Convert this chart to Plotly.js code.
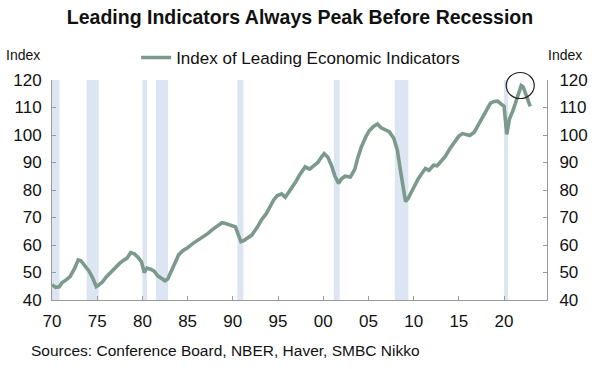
<!DOCTYPE html>
<html>
<head>
<meta charset="utf-8">
<script src="https://cdn.plot.ly/plotly-3.0.1.min.js"></script>
<style>html,body{margin:0;padding:0;background:#fff}#chart{width:600px;height:369px}</style>
</head>
<body>
<div id="chart"></div>
<script>
// Decimal years and index values
const years = [1970.0,1970.4,1970.8,1971.1,1971.6,1972.0,1972.5,1972.9,1973.2,1973.6,1974.1,1974.5,1974.9,1975.2,1975.6,1976.0,1976.5,1977.0,1977.5,1978.0,1978.3,1978.7,1979.1,1979.5,1979.9,1980.2,1980.5,1980.9,1981.3,1981.7,1982.1,1982.5,1982.8,1983.2,1983.6,1984.0,1984.5,1985.0,1985.6,1986.2,1986.8,1987.3,1987.7,1988.2,1988.8,1989.2,1989.8,1990.3,1990.6,1990.9,1991.2,1991.6,1992.1,1992.7,1993.2,1993.7,1994.1,1994.5,1994.9,1995.4,1995.8,1996.2,1996.6,1997.0,1997.4,1998.0,1998.5,1999.0,1999.4,1999.8,2000.1,2000.5,2000.9,2001.3,2001.7,2002.0,2002.4,2003.0,2003.5,2003.8,2004.2,2004.7,2005.1,2005.6,2006.0,2006.4,2006.9,2007.3,2007.8,2008.2,2008.5,2008.8,2009.1,2009.4,2009.7,2010.1,2010.5,2010.9,2011.3,2011.7,2012.2,2012.6,2013.0,2013.5,2014.0,2014.5,2015.0,2015.4,2015.8,2016.2,2016.7,2017.2,2017.6,2018.0,2018.5,2018.9,2019.3,2019.7,2020.0,2020.3,2020.6,2021.0,2021.4,2021.7,2021.9,2022.1,2022.4,2022.7,2022.9];
const leiValues = [45.6,44.6,44.8,46.3,47.4,48.5,51.5,54.6,54.3,52.8,50.5,48.0,44.9,45.5,46.6,48.4,50.2,51.8,53.4,54.6,55.2,57.2,56.8,55.6,53.9,50.0,51.6,51.2,50.5,48.8,47.8,47.0,47.6,50.6,53.8,56.4,58.0,59.0,60.6,61.8,63.2,64.3,65.5,66.7,68.1,67.8,67.2,66.6,63.8,61.2,61.6,62.6,63.6,66.4,69.3,71.4,74.0,76.3,77.9,78.6,77.4,79.3,81.0,83.2,85.6,88.4,87.6,88.8,90.0,92.0,93.2,92.0,89.0,85.0,82.4,84.0,85.0,84.7,87.6,91.5,95.5,99.3,101.6,103.2,104.0,102.6,101.8,101.2,98.8,94.5,88.0,81.5,75.8,77.0,79.0,81.5,84.0,86.0,87.8,87.2,89.0,88.8,90.3,92.2,95.0,97.6,99.6,100.5,100.2,99.8,101.0,104.0,106.6,109.0,111.6,112.2,112.3,111.2,110.5,100.2,105.8,109.0,112.6,115.8,118.0,117.6,115.0,112.0,110.4];

// NBER recessions (decimal years)
const recessionStart = [1969.92,1973.83,1980.0,1981.5,1990.5,2001.17,2007.92,2020.0];
const recessionEnd   = [1970.83,1975.17,1980.5,1982.83,1991.17,2001.83,2009.42,2020.45];

const tickYears = [1970,1975,1980,1985,1990,1995,2000,2005,2010,2015,2020];
const tickLabels = ['70','75','80','85','90','95','00','05','10','15','20'];
const yTicks = [40,50,60,70,80,90,100,110,120];

const X_RANGE = [1970, 2024.75];
const Y_RANGE = [40, 120];
const FONT = 'Liberation Sans, Arial, sans-serif';
const AX = '#9a9a9a';

const shapes = recessionStart.map((s, i) => ({
  type: 'rect', xref: 'x', yref: 'paper', x0: s, x1: recessionEnd[i], y0: 0, y1: 1,
  fillcolor: '#dce6f2', line: {width: 0}, layer: 'below'
}));

// circle around the peak (paper-referenced so it is not clipped by the plot area)
let pk = 0;
leiValues.forEach((v, i) => { if (v > leiValues[pk]) pk = i; });
shapes.push({
  type: 'circle', xref: 'paper', yref: 'paper', xsizemode: 'pixel', ysizemode: 'pixel',
  xanchor: (years[pk] - X_RANGE[0]) / (X_RANGE[1] - X_RANGE[0]),
  yanchor: (leiValues[pk] - Y_RANGE[0]) / (Y_RANGE[1] - Y_RANGE[0]),
  x0: -15, x1: 13, y0: -13, y1: 13,
  line: {color: '#222', width: 1.2}, fillcolor: 'rgba(0,0,0,0)', layer: 'above'
});

const trace = {
  x: years, y: leiValues, type: 'scatter', mode: 'lines',
  name: 'Index of Leading Economic Indicators',
  line: {color: '#7b9a8b', width: 3.6, shape: 'linear'},
  hoverinfo: 'skip'
};
const ghost = {
  x: years, y: leiValues, type: 'scatter', mode: 'lines', yaxis: 'y2',
  showlegend: false, line: {color: 'rgba(0,0,0,0)', width: 0}, hoverinfo: 'skip'
};

const axisCommon = {
  range: Y_RANGE, tickvals: yTicks, ticks: 'inside', ticklen: 4, tickcolor: AX,
  showline: true, linecolor: AX, linewidth: 1, showgrid: false, zeroline: false,
  tickfont: {family: FONT, size: 17, color: '#111'}, fixedrange: true
};

const layout = {
  width: 600, height: 369,
  margin: {l: 52, r: 53, t: 80, b: 69},
  paper_bgcolor: '#fff', plot_bgcolor: '#fff',
  title: {text: '<b>Leading Indicators Always Peak Before Recession</b>',
          font: {family: FONT, size: 19.5, color: '#111'},
          x: 0.5, xanchor: 'center', y: 0.953, yanchor: 'middle'},
  showlegend: true,
  legend: {orientation: 'h', x: 0.17, xanchor: 'left', y: 1.1, yanchor: 'middle',
           font: {family: FONT, size: 17, color: '#111'}, bgcolor: 'rgba(0,0,0,0)'},
  xaxis: {range: X_RANGE, tickvals: tickYears, ticktext: tickLabels,
          ticks: 'inside', ticklen: 4, tickcolor: AX, showline: true, linecolor: AX,
          showgrid: false, zeroline: false, fixedrange: true, ticklabelstandoff: 6,
          tickfont: {family: FONT, size: 17, color: '#111'}},
  yaxis: Object.assign({}, axisCommon, {side: 'left', ticklabelstandoff: 6}),
  yaxis2: Object.assign({}, axisCommon, {side: 'right', overlaying: 'y', ticklabelstandoff: 8}),
  shapes: shapes,
  annotations: [
    {text: 'Index', xref: 'paper', yref: 'paper', x: -0.059, y: 1.113, xanchor: 'center', yanchor: 'middle',
     showarrow: false, font: {family: FONT, size: 14, color: '#111'}},
    {text: 'Index', xref: 'paper', yref: 'paper', x: 1.036, y: 1.113, xanchor: 'center', yanchor: 'middle',
     showarrow: false, font: {family: FONT, size: 14, color: '#111'}},
    {text: 'Sources: Conference Board, NBER, Haver, SMBC Nikko', xref: 'paper', yref: 'paper',
     x: -0.047, y: -0.23, xanchor: 'left', yanchor: 'middle', showarrow: false,
     font: {family: FONT, size: 15.5, color: '#111'}}
  ]
};

Plotly.newPlot('chart', [trace, ghost], layout, {displayModeBar: false, staticPlot: true});
</script>
</body>
</html>
